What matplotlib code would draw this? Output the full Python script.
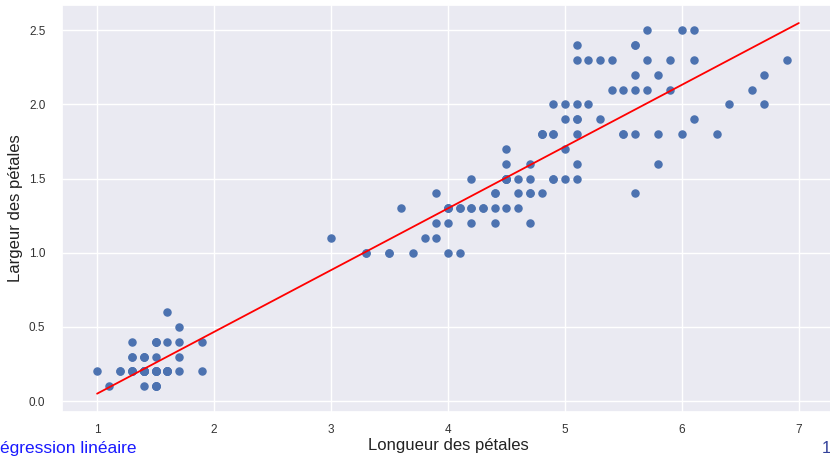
import numpy as np
import matplotlib
matplotlib.use("Agg")
import matplotlib.pyplot as plt
import seaborn as sns

# iris : longueur et largeur des pétales
longueur = [
    1.4, 1.4, 1.3, 1.5, 1.4, 1.7, 1.4, 1.5, 1.4, 1.5, 1.5, 1.6, 1.4, 1.1, 1.2, 1.5, 1.3, 1.4, 1.7, 1.5,
    1.7, 1.5, 1.0, 1.7, 1.9, 1.6, 1.6, 1.5, 1.4, 1.6, 1.6, 1.5, 1.5, 1.4, 1.5, 1.2, 1.3, 1.5, 1.3, 1.5,
    1.3, 1.3, 1.3, 1.6, 1.9, 1.4, 1.6, 1.4, 1.5, 1.4,
    4.7, 4.5, 4.9, 4.0, 4.6, 4.5, 4.7, 3.3, 4.6, 3.9, 3.5, 4.2, 4.0, 4.7, 3.6, 4.4, 4.5, 4.1, 4.5, 3.9,
    4.8, 4.0, 4.9, 4.7, 4.3, 4.4, 4.8, 5.0, 4.5, 3.5, 3.8, 3.7, 3.9, 5.1, 4.5, 4.5, 4.7, 4.4, 4.1, 4.0,
    4.4, 4.6, 4.0, 3.3, 4.2, 4.2, 4.2, 4.3, 3.0, 4.1,
    6.0, 5.1, 5.9, 5.6, 5.8, 6.6, 4.5, 6.3, 5.8, 6.1, 5.1, 5.3, 5.5, 5.0, 5.1, 5.3, 5.5, 6.7, 6.9, 5.0,
    5.7, 4.9, 6.7, 4.9, 5.7, 6.0, 4.8, 4.9, 5.6, 5.8, 6.1, 6.4, 5.6, 5.1, 5.6, 6.1, 5.6, 5.5, 4.8, 5.4,
    5.6, 5.1, 5.1, 5.9, 5.7, 5.2, 5.0, 5.2, 5.4, 5.1,
]
largeur = [
    0.2, 0.2, 0.2, 0.2, 0.2, 0.4, 0.3, 0.2, 0.2, 0.1, 0.2, 0.2, 0.1, 0.1, 0.2, 0.4, 0.4, 0.3, 0.3, 0.3,
    0.2, 0.4, 0.2, 0.5, 0.2, 0.2, 0.4, 0.2, 0.2, 0.2, 0.2, 0.4, 0.1, 0.2, 0.1, 0.2, 0.2, 0.1, 0.2, 0.2,
    0.3, 0.3, 0.2, 0.6, 0.4, 0.3, 0.2, 0.2, 0.2, 0.2,
    1.4, 1.5, 1.5, 1.3, 1.5, 1.3, 1.6, 1.0, 1.3, 1.4, 1.0, 1.5, 1.0, 1.4, 1.3, 1.4, 1.5, 1.0, 1.5, 1.1,
    1.8, 1.3, 1.5, 1.2, 1.3, 1.4, 1.4, 1.7, 1.5, 1.0, 1.1, 1.0, 1.2, 1.6, 1.5, 1.6, 1.5, 1.3, 1.3, 1.3,
    1.2, 1.4, 1.2, 1.0, 1.3, 1.2, 1.3, 1.3, 1.1, 1.3,
    2.5, 1.9, 2.1, 1.8, 2.2, 2.1, 1.7, 1.8, 1.8, 2.5, 2.0, 1.9, 2.1, 2.0, 2.4, 2.3, 1.8, 2.2, 2.3, 1.5,
    2.3, 2.0, 2.0, 1.8, 2.1, 1.8, 1.8, 1.8, 2.1, 1.6, 1.9, 2.0, 2.2, 1.5, 1.4, 2.3, 2.4, 1.8, 1.8, 2.1,
    2.4, 2.3, 1.9, 2.3, 2.5, 2.3, 1.9, 2.0, 2.3, 1.8,
]

sns.set_theme(style="darkgrid")
plt.rcParams["font.family"] = ["Liberation Sans", "DejaVu Sans"]

x = np.array(longueur)
y = np.array(largeur)

# droite des moindres carrés
a, b = np.polyfit(x, y, 1)
x_droite = np.linspace(1, 7, 100)
y_droite = a * x_droite + b

fig = plt.figure(figsize=(8.3, 4.57), dpi=100)
ax = fig.add_axes([0.0747, 0.099, 0.930, 0.890])

ax.scatter(x, y, color="#4C72B0", s=26, zorder=3)
ax.plot(x_droite, y_droite, color="red", linewidth=1.3, zorder=4)

ax.set_xlim(0.7, 7.3)
ax.set_ylim(-0.072, 2.67)
ax.set_xticks([1, 2, 3, 4, 5, 6, 7])
ax.set_yticks([0.0, 0.5, 1.0, 1.5, 2.0, 2.5])
ax.tick_params(axis="x", labelsize=8.5, colors="#333333", pad=3)
ax.tick_params(axis="y", labelsize=8.5, colors="#333333", pad=6)
ax.set_xlabel("Longueur des pétales", fontsize=12, color="#222222", labelpad=1)
ax.set_ylabel("Largeur des pétales", fontsize=12, color="#222222", labelpad=4)

# pied de page de la diapositive
fig.text(0.0, 0.002, "égression linéaire", color="#1a1aff", fontsize=12.5, ha="left", va="bottom")
fig.text(0.99, 0.002, "1", color="#33419a", fontsize=12, ha="left", va="bottom")

fig.savefig("out.png", dpi=100)
